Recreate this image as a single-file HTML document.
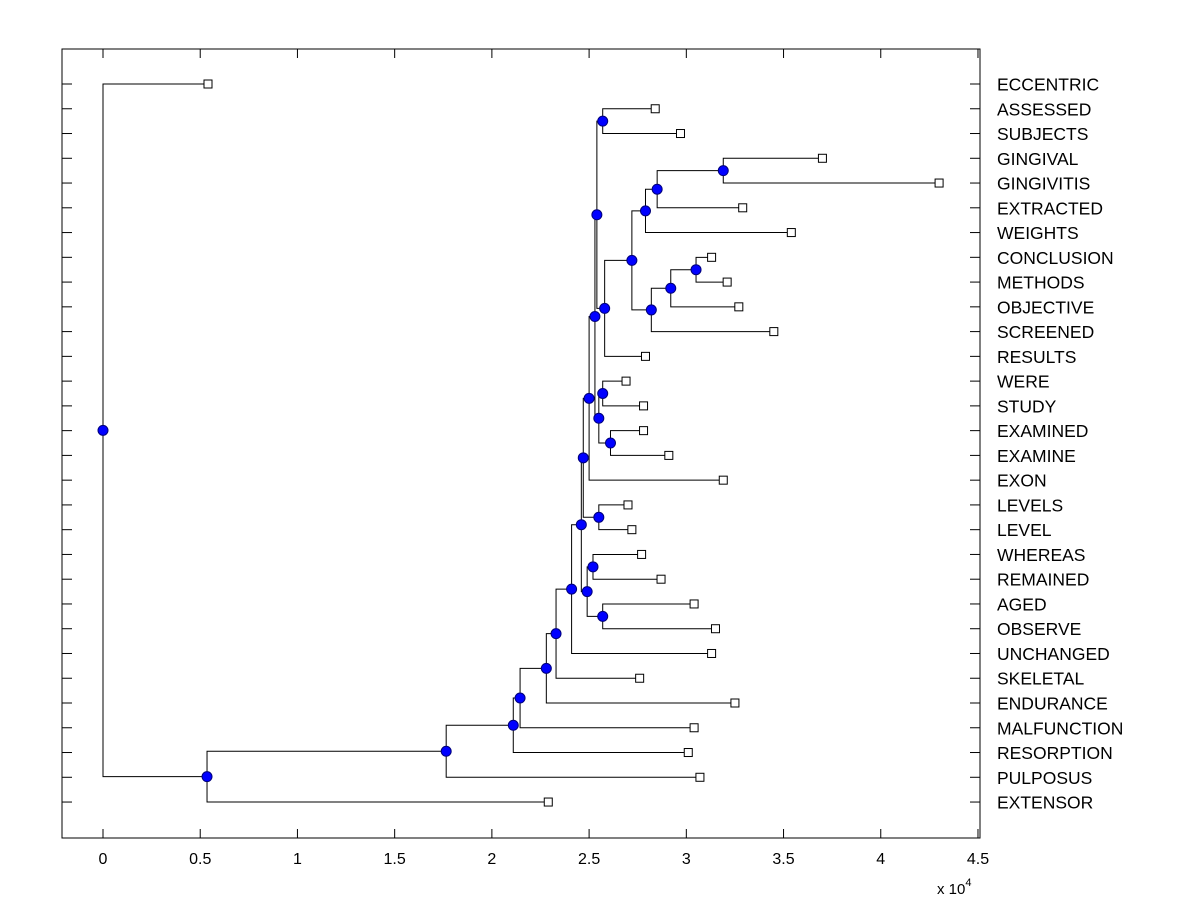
<!DOCTYPE html>
<html><head><meta charset="utf-8"><style>
html,body{margin:0;padding:0;background:#fff;}
svg{display:block;font-family:"Liberation Sans",Arial,sans-serif;}
</style></head><body>
<svg id="chart" width="1200" height="900" xmlns="http://www.w3.org/2000/svg"></svg>
<script>
const leafNames = ["ECCENTRIC","ASSESSED","SUBJECTS","GINGIVAL","GINGIVITIS","EXTRACTED","WEIGHTS","CONCLUSION","METHODS","OBJECTIVE","SCREENED","RESULTS","WERE","STUDY","EXAMINED","EXAMINE","EXON","LEVELS","LEVEL","WHEREAS","REMAINED","AGED","OBSERVE","UNCHANGED","SKELETAL","ENDURANCE","MALFUNCTION","RESORPTION","PULPOSUS","EXTENSOR"];
const leafValues = [0.54,2.84,2.97,3.70,4.30,3.29,3.54,3.13,3.21,3.27,3.45,2.79,2.69,2.78,2.78,2.91,3.19,2.70,2.72,2.77,2.87,3.04,3.15,3.13,2.76,3.25,3.04,3.01,3.07,2.29];
const nodeChildren = [
 ["ASSESSED","SUBJECTS"],["GINGIVAL","GINGIVITIS"],["n2","EXTRACTED"],["n3","WEIGHTS"],
 ["CONCLUSION","METHODS"],["n5","OBJECTIVE"],["n6","SCREENED"],["n4","n7"],["n8","RESULTS"],
 ["n1","n9"],["WERE","STUDY"],["EXAMINED","EXAMINE"],["n11","n12"],["n10","n13"],["n14","EXON"],
 ["LEVELS","LEVEL"],["n15","n16"],["WHEREAS","REMAINED"],["AGED","OBSERVE"],["n18","n19"],
 ["n17","n20"],["n21","UNCHANGED"],["n22","SKELETAL"],["n23","ENDURANCE"],["n24","MALFUNCTION"],
 ["n25","RESORPTION"],["n26","PULPOSUS"],["n27","EXTENSOR"],["ECCENTRIC","n28"]
];
const nodeHeights = [2.57,3.19,2.85,2.79,3.05,2.92,2.82,2.72,2.58,2.54,2.57,2.61,2.55,2.53,2.50,2.55,2.47,2.52,2.57,2.49,2.46,2.41,2.33,2.28,2.145,2.11,1.765,0.535,0];
const xTicks = [0,0.5,1,1.5,2,2.5,3,3.5,4,4.5];
const xTickLabels = ["0","0.5","1","1.5","2","2.5","3","3.5","4","4.5"];

const NS="http://www.w3.org/2000/svg";
const svg=document.getElementById('chart');
const L=62,R=980,T=49,B=838;
const xs=v=>103+v*194.44;
const ys=i=>84+i*24.76;
function mk(tag,attrs,parent){const e=document.createElementNS(NS,tag);for(const k in attrs)e.setAttribute(k,attrs[k]);(parent||svg).appendChild(e);return e;}

const frame=mk('rect',{x:L,y:T,width:R-L,height:B-T,fill:'none',stroke:'#000','stroke-width':1});



xTicks.forEach((t,i)=>{
  const x=xs(t);
  const tb=mk('line',{x1:x,y1:B,x2:x,y2:B-9,stroke:'#000'});
  
  
  const tt=mk('line',{x1:x,y1:T,x2:x,y2:T+9,stroke:'#000'});
  
  
  const lb=mk('text',{x:x,y:864,'text-anchor':'middle','font-size':16,fill:'#000'});
  lb.textContent=xTickLabels[i];
  
  
});
const ex=mk('text',{x:937,y:894,'font-size':15,fill:'#000'});


ex.innerHTML='x 10<tspan dy="-8" font-size="11">4</tspan>';

const pos={};
leafNames.forEach((n,i)=>{
  const y=ys(i);
  pos[n]={x:xs(leafValues[i]),y:y};
  const t1=mk('line',{x1:L,y1:y,x2:L+10,y2:y,stroke:'#000'});
  
  
  const t2=mk('line',{x1:R-10,y1:y,x2:R,y2:y,stroke:'#000'});
  
  
  const lb=mk('text',{x:997,y:y+6.5,'font-size':17.5,fill:'#000'});
  lb.textContent=n;
  
  
});
nodeChildren.forEach((c,k)=>{
  const a=pos[c[0]],b=pos[c[1]];
  pos['n'+(k+1)]={x:xs(nodeHeights[k]),y:(a.y+b.y)/2,a:a,b:b};
});
const gl=mk('g',{});
const gm=mk('g',{});
nodeChildren.forEach((c,k)=>{
  const p=pos['n'+(k+1)];
  const path=mk('path',{d:`M${p.a.x},${p.a.y}H${p.x}V${p.b.y}H${p.b.x}`,fill:'none',stroke:'#000','stroke-width':1},gl);
  
  
});
leafNames.forEach(n=>{
  const p=pos[n];
  const s=mk('rect',{x:p.x-4,y:p.y-4,width:8,height:8,fill:'#fff',stroke:'#000'},gm);
  
  
});
nodeChildren.forEach((c,k)=>{
  const p=pos['n'+(k+1)];
  const d=mk('circle',{cx:p.x,cy:p.y,r:5,fill:'#0000ff',stroke:'#00007a','stroke-width':1},gm);
  
  
});
</script>
</body></html>
